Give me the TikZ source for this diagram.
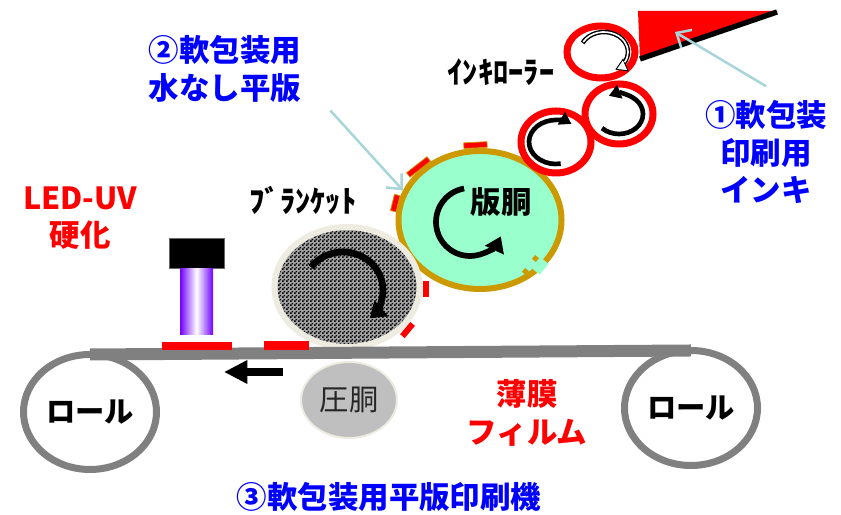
\documentclass[tikz,border=0pt]{standalone}
\usepackage{fontspec}
\setmainfont{Noto Sans CJK JP}
\usepackage{tikz}
\usetikzlibrary{shapes.geometric,arrows.meta,patterns}

\definecolor{inkred}{HTML}{FF0000}
\definecolor{jpblue}{HTML}{0000FF}
\definecolor{filmgray}{HTML}{808080}
\definecolor{platemint}{HTML}{99FFCC}
\definecolor{plategold}{HTML}{CC9900}
\definecolor{blanketrim}{HTML}{EEECE1}
\definecolor{calloutblue}{HTML}{A8D5DA}
\definecolor{uvpurple}{HTML}{7000FF}
\definecolor{drumgray}{HTML}{BFBFBF}

% black/white checks for the blanket surface
\pgfdeclarepatternformonly{finechecker}{\pgfpointorigin}{\pgfqpoint{3pt}{3pt}}{\pgfqpoint{3pt}{3pt}}{%
	\pgfpathrectangle{\pgfpointorigin}{\pgfqpoint{1.5pt}{1.5pt}}%
	\pgfpathrectangle{\pgfqpoint{1.5pt}{1.5pt}}{\pgfqpoint{1.5pt}{1.5pt}}%
	\pgfusepath{fill}}

\begin{document}
\begin{tikzpicture}[x=0.03cm,y=0.03cm,
	jtext/.style={font=\fontsize{26}{32}\selectfont\bfseries, align=center},
	filmroll/.style={shape=ellipse, draw=filmgray, line width=0.21cm, fill=white, minimum width=3.99cm, minimum height=3.45cm, inner sep=0pt, outer sep=0pt, font=\fontsize{25}{30}\selectfont\bfseries},
	film/.style={draw=filmgray, line width=0.36cm},
	drum/.style={shape=ellipse, fill=drumgray, draw=blanketrim, line width=0.06cm, minimum width=2.88cm, minimum height=2.28cm, inner sep=0pt, font=\fontsize{25}{30}\selectfont, text=black!85},
	inkpatch/.style={shape=rectangle, fill=inkred, inner sep=0pt},
	lamphead/.style={shape=rectangle, fill=black, draw=black!60, line width=0.6pt, minimum width=1.65cm, minimum height=0.9cm, inner sep=0pt},
	uvbeam/.style={shape=rectangle, left color=uvpurple, right color=uvpurple, middle color=white, minimum width=0.99cm, minimum height=1.98cm, inner sep=0pt},
	travel/.style={line width=0.24cm, -{Triangle[length=20pt,width=19pt]}},
	blanket/.style={shape=ellipse, draw=blanketrim, line width=0.18cm, preaction={fill=black!35}, pattern=finechecker, minimum width=4.35cm, minimum height=3.6cm, inner sep=0pt},
	blanketbit/.style={shape=rectangle, fill=inkred, minimum width=0.48cm, minimum height=0.18cm, inner sep=0pt},
	plate/.style={shape=ellipse, draw=plategold, fill=platemint, line width=0.18cm, minimum width=4.89cm, minimum height=4.14cm, inner sep=0pt},
	platebit/.style={shape=rectangle, draw=plategold, fill=inkred, line width=0.6pt, minimum width=0.7cm, minimum height=0.17cm, inner sep=0pt},
	inkroller/.style={shape=ellipse, draw=inkred, line width=0.21cm, fill=white, inner sep=0pt},
	spin/.style={line width=0.2cm, -{Triangle[length=13pt,width=17pt]}},
	smallspin/.style={line width=0.14cm, -{Triangle[length=10pt,width=12pt]}},
	callout/.style={draw=calloutblue, line width=0.075cm, -{Straight Barb[length=10pt,width=18pt]}}]
	\useasboundingbox (0,0) rectangle (841,515);

	% ink fountain and its blade
	\fill[inkred] (638,504) -- (778,504) -- (640,456) -- cycle;
	\draw[line width=0.16cm] (640,456) -- (777,503);

	% plate cylinder
	\node[plate] (plate) at (480,295) {};
	\path (plate) ++(93:87 and 75) node[platebit, rotate=3] (pbit1) {};
	\path (plate) ++(135:87 and 75) node[platebit, rotate=38, minimum width=0.78cm] (pbit2) {};
	\path (plate) ++(167:87 and 75) node[platebit, rotate=76, minimum width=0.5cm] (pbit3) {};
	\path (plate) ++(-42:80 and 68) node[shape=rectangle, fill=platemint, rotate=50, minimum width=0.42cm, minimum height=0.36cm, inner sep=0pt] (gap) {};
	\path (gap) ++(-14,-6) node[shape=rectangle, fill=plategold, rotate=50, minimum size=0.15cm, inner sep=0pt] (gapa) {};
	\path (gap) ++(-4,7) node[shape=rectangle, fill=plategold, rotate=50, minimum size=0.15cm, inner sep=0pt] (gapb) {};
	\node[jtext] (platetxt) at (501,313) {版胴};
	\draw[spin, line width=0.17cm] (470,293) ++(100:34) arc[start angle=100, end angle=335, radius=34];

	% ink rollers
	\node[inkroller, minimum width=2.04cm, minimum height=1.56cm] (r1) at (601,463) {};
	\node[inkroller, minimum width=2.04cm, minimum height=1.8cm] (r2) at (619,401) {};
	\node[inkroller, minimum width=2.1cm, minimum height=1.86cm] (r3) at (556,373) {};
	\draw[line width=0.135cm, -{Triangle[fill=white, line width=0.8pt, length=10pt, width=12pt]}] (604,463) ++(153:24 and 20) arc[start angle=153, end angle=-62, x radius=24, y radius=20];
	\draw[white, line width=0.05cm] (604,463) ++(150:24 and 20) arc[start angle=150, end angle=-31, x radius=24, y radius=20];
	\draw[smallspin] (619,401) ++(225:24 and 20) arc[start angle=225, end angle=475, x radius=24, y radius=20];
	\draw[smallspin] (556,373) ++(280:27 and 22) arc[start angle=280, end angle=55, x radius=27, y radius=22];

	% blanket cylinder
	\node[blanket] (blanket) at (347,228) {};
	\path (blanket) ++(-2:79 and 67) node[blanketbit, rotate=90] (bbit1) {};
	\path (blanket) ++(-40:79 and 67) node[blanketbit, rotate=50] (bbit2) {};
	\draw[spin] (343,225) ++(143:40 and 38) arc[start angle=143, end angle=-48, x radius=40, y radius=38];

	% film path
	\node[filmroll] (lroll) at (90,103) {ロール};
	\node[filmroll] (rroll) at (691,107) {ロール};
	\node[drum] (drum) at (349,115) {圧胴};
	\path[film] (lroll.north) edge (rroll.north);
	\node[inkpatch, minimum width=2.1cm, minimum height=0.24cm] (cure1) at (197,169) {};
	\node[inkpatch, minimum width=1.35cm, minimum height=0.27cm] (cure2) at (286.5,169.5) {};
	\coordinate (filmA) at (283,143);
	\coordinate (filmB) at (224,143);
	\draw[travel] (filmA) -- (filmB);

	% LED-UV lamp
	\node[lamphead] (lamp) at (196.5,262) {};
	\node[uvbeam, anchor=north] (beam) at (lamp.south) {};

	% labels
	\node[jtext, text=inkred] (uvlbl) at (80,297) {LED-UV\\硬化};
	\node[jtext, text=jpblue, align=left] (platelbl) at (225,446) {②軟包装用\\水なし平版};
	\node[jtext, text=jpblue] (inklbl) at (766,363) {①軟包装\\印刷用\\インキ};
	\node[jtext] (rollerlbl) at (501,443) {ｲﾝｷﾛｰﾗｰ};
	\node[jtext] (blanketlbl) at (303,315) {ﾌﾞﾗﾝｹｯﾄ};
	\node[jtext, text=inkred] (filmlbl) at (527,102) {薄膜\\フィルム};
	\node[jtext, text=jpblue] (presslbl) at (389,18) {③軟包装用平版印刷機};

	% callouts
	\coordinate (fount) at (675,483);
	\draw[callout] ([yshift=0.3cm]inklbl.north) -- (fount);
	\draw[callout] ([shift={(0.75cm,-0.12cm)}]platelbl.south east) -- (plate.159);
\end{tikzpicture}
\end{document}
